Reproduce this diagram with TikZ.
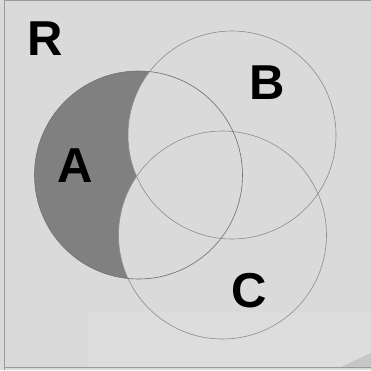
\documentclass[tikz,border=0pt]{standalone}
\usepackage{fontspec}
\setmainfont{Liberation Sans}
\definecolor{bg}{HTML}{DADADA}
\definecolor{bglight}{HTML}{DDDDDD}
\definecolor{darkfill}{HTML}{808080}
\definecolor{ring}{HTML}{8C8C8C}
\definecolor{frame}{HTML}{9A9A9A}
\definecolor{curl}{HTML}{C6C6C6}
\begin{document}
\begin{tikzpicture}[x=1pt,y=-1pt,
  letter/.style={font=\fontsize{49}{49}\selectfont\bfseries, inner sep=0pt, text=black},
  ringline/.style={draw=ring, line width=0.6pt}]
\useasboundingbox (0,0) rectangle (371,370);
\fill[bg] (0,0) rectangle (371,370);
\fill[bglight] (88,313) rectangle (371,367);
\fill[curl] (340,367.5) -- (371,353) -- (371,367.5) -- cycle;
% frame
\draw[frame, line width=1pt] (4.5,370) -- (4.5,0.5) -- (371,0.5);
\draw[frame, line width=1.2pt] (4.5,367.7) -- (371,367.7);
% shaded region A - B - C
\begin{scope}
  \clip (138.5,175) circle (104);
  \fill[darkfill] (138.5,175) circle (104);
  \fill[bg] (232,135) circle (104);
  \fill[bg] (222.5,235) circle (104);
\end{scope}
% circles
\draw[ringline, draw=ring!80!black] (138.5,175) circle (104);
\draw[ringline] (232,135) circle (104);
\draw[ringline] (222.5,235) circle (104);
% labels
\node[letter] (R) at (44.7,38.8) {R};
\node[letter] (A) at (75,165.3) {A};
\node[letter] (B) at (267,83) {B};
\node[letter] (C) at (248.7,291) {C};
\end{tikzpicture}
\end{document}
